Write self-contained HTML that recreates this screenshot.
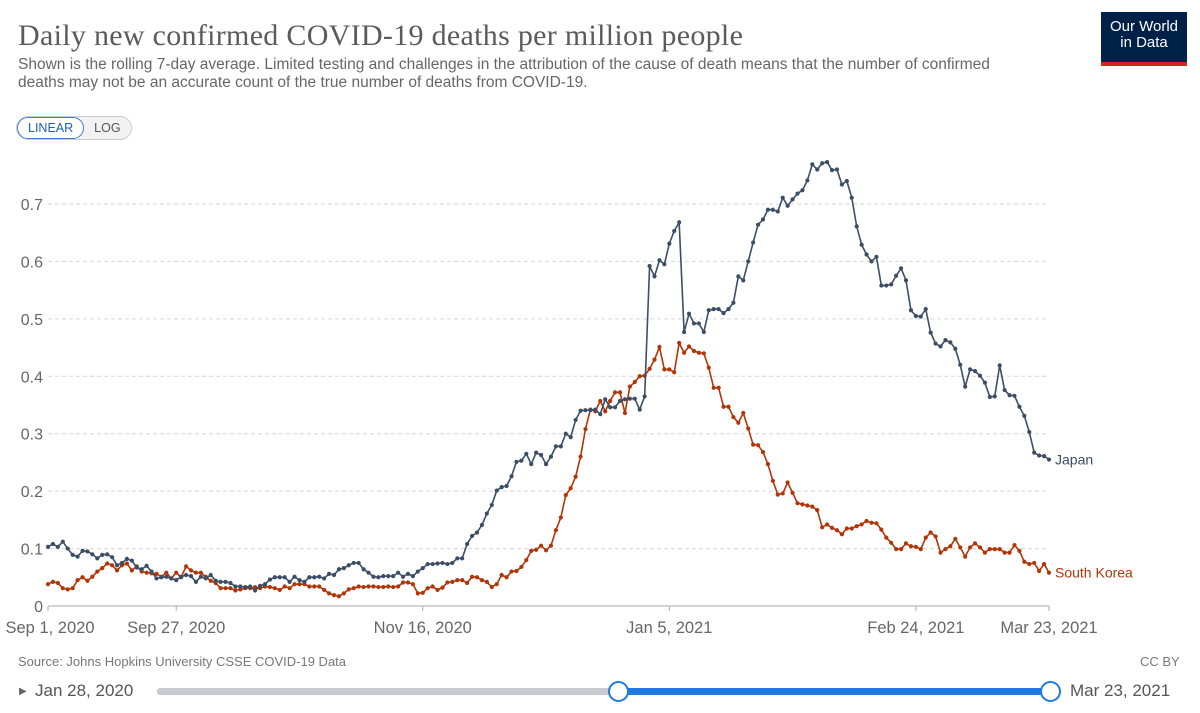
<!DOCTYPE html>
<html><head><meta charset="utf-8">
<style>
body{margin:0;background:#fff;width:1200px;height:713px;overflow:hidden;font-family:"Liberation Sans",sans-serif;position:relative}
.t{position:absolute;margin:0}
</style></head><body>
<h1 class="t" style="left:18px;top:19px;font-family:'Liberation Serif',serif;font-weight:normal;font-size:30px;color:#5b5b5b;letter-spacing:0.3px">Daily new confirmed COVID-19 deaths per million people</h1>
<p class="t" style="left:18px;top:56px;font-size:15.5px;line-height:18px;color:#666;width:1000px">Shown is the rolling 7-day average. Limited testing and challenges in the attribution of the cause of death means that the number of confirmed deaths may not be an accurate count of the true number of deaths from COVID-19.</p>
<div style="position:absolute;left:1101px;top:12px;width:86px;height:54px;background:#002147;color:#fff;font-size:15px;line-height:16px;text-align:center;box-sizing:border-box;padding-top:7px">Our World<br>in Data<div style="position:absolute;left:0;bottom:0;width:86px;height:4px;background:#ce261e"></div></div>
<div style="position:absolute;left:16px;top:116px;height:22px;border:1px solid #ccc;border-radius:12px;font-size:12.5px;display:flex;overflow:hidden;background:#f2f2f2">
<div style="padding:3px 10px;border:1.5px solid #3a7cd8;border-radius:12px;color:#1d5fbf;background:#fff">LINEAR</div>
<div style="padding:4px 10px;color:#555">LOG</div></div>
<svg id="ch" width="1200" height="713" style="position:absolute;left:0;top:0"></svg>
<div class="t" style="left:18px;top:654px;font-size:13px;color:#777">Source: Johns Hopkins University CSSE COVID-19 Data</div>
<div class="t" style="left:1140px;top:654px;font-size:13px;color:#777">CC BY</div>
<div class="t" style="left:19px;top:686px;font-size:10px;color:#666">▶</div>
<div class="t" style="left:35px;top:681px;font-size:17px;color:#555">Jan 28, 2020</div>
<div class="t" style="left:1070px;top:681px;font-size:17px;color:#555">Mar 23, 2021</div>
<div style="position:absolute;left:157px;top:688px;width:893px;height:7px;background:#c8ccd2;border-radius:3px"></div>
<div style="position:absolute;left:618px;top:688px;width:432px;height:7px;background:#1f7ae0"></div>
<div style="position:absolute;left:608px;top:681px;width:17px;height:17px;border:2px solid #1f7ae0;border-radius:50%;background:#fff"></div>
<div style="position:absolute;left:1040px;top:681px;width:17px;height:17px;border:2px solid #1f7ae0;border-radius:50%;background:#fff"></div>
<script>
const yTicks=[0,0.1,0.2,0.3,0.4,0.5,0.6,0.7];
const xTickLabels=["Sep 1, 2020","Sep 27, 2020","Nov 16, 2020","Jan 5, 2021","Feb 24, 2021","Mar 23, 2021"];
const xTickDays=[0,26,76,126,176,203];
const japan=[.103,.108,.103,.112,.1,.089,.086,.096,.095,.09,.083,.089,.09,.085,.071,.075,.082,.079,.067,.064,.07,.06,.048,.05,.051,.048,.045,.051,.054,.052,.042,.051,.048,.054,.044,.042,.042,.04,.034,.034,.033,.034,.027,.035,.038,.046,.05,.05,.05,.042,.051,.045,.042,.05,.05,.051,.048,.056,.054,.064,.066,.071,.075,.075,.064,.058,.051,.05,.052,.052,.052,.058,.051,.056,.052,.06,.066,.073,.073,.074,.075,.073,.075,.083,.083,.108,.122,.128,.141,.161,.176,.201,.207,.209,.226,.251,.253,.265,.247,.267,.263,.247,.26,.278,.278,.3,.294,.324,.34,.341,.341,
.342,.334,.36,.346,.346,.357,.36,.361,.361,.342,.365,.592,.574,.602,.595,.631,.653,.668,.477,.509,.492,.492,.477,.515,.517,.517,.51,.517,.528,.574,.567,.6,.633,.664,.673,.69,.69,.687,.711,.697,.708,.718,.724,.741,.769,.76,.771,.773,.759,.76,.734,.74,.711,.661,.629,.612,.6,.608,.558,.558,.56,.575,.588,.567,.515,.505,.504,.517,.476,.457,.452,.463,.459,.448,.42,.382,.412,.409,.401,.389,.364,.365,.419,.376,.367,.366,.347,.331,.303,.267,.262,.261,.255];
const korea=[.038,.042,.040,.031,.029,.031,.045,.050,.044,.051,.060,.066,.074,.071,.062,.071,.074,.062,.069,.060,.058,.057,.056,.051,.058,.048,.058,.050,.069,.062,.058,.058,.051,.044,.040,.031,.031,.031,.027,.029,.031,.031,.033,.031,.034,.033,.031,.028,.034,.031,.038,.038,.038,.034,.034,.034,.028,.022,.019,.017,.022,.029,.031,.034,.033,.034,.034,.033,.033,.034,.033,.034,.041,.041,.038,.022,.023,.031,.034,.028,.032,.041,.042,.045,.045,.040,.051,.050,.045,.042,.033,.038,.054,.050,.060,.061,.068,.080,.096,.098,.105,.097,.105,.132,.154,.193,.205,.225,.260,.308,.342,
.339,.357,.339,.357,.372,.372,.336,.382,.39,.40,.401,.413,.429,.451,.412,.412,.407,.458,.441,.452,.444,.441,.44,.415,.38,.38,.347,.347,.329,.319,.336,.309,.281,.28,.268,.247,.218,.194,.196,.215,.197,.179,.177,.175,.173,.167,.137,.142,.136,.132,.125,.135,.135,.139,.142,.148,.145,.144,.133,.119,.11,.099,.099,.109,.104,.103,.099,.119,.128,.121,.093,.099,.104,.117,.102,.086,.102,.109,.102,.093,.099,.099,.099,.093,.093,.106,.096,.077,.073,.075,.061,.073,.058];
const NS='http://www.w3.org/2000/svg',svg=document.getElementById('ch');
const X0=48,X1=1049,Y0=606,PER=574.3;
const xs=d=>X0+(X1-X0)*d/203, ys=v=>Y0-v*PER;
function mk(t,a,txt){const e=document.createElementNS(NS,t);for(const k in a)e.setAttribute(k,a[k]);if(txt!=null)e.textContent=txt;svg.appendChild(e);return e;}
yTicks.forEach(v=>{
 if(v>0){const g=mk('line',{x1:X0,x2:1048,y1:ys(v),y2:ys(v),stroke:'#d5d5d5','stroke-dasharray':'4,3'});
 
 }
 const t=mk('text',{x:43,y:ys(v)+6,'text-anchor':'end','font-size':16,fill:'#666','font-family':'Liberation Sans'},String(v));
 
 
});
const ax=mk('line',{x1:X0,x2:1049,y1:Y0,y2:Y0,stroke:'#aaa'});


xTickLabels.forEach((l,i)=>{
 const x=xs(xTickDays[i]);
 const tk=mk('line',{x1:x,x2:x,y1:Y0,y2:Y0+5,stroke:'#aaa'});
 
 
 let tx=x;if(i==0){tx=x+2;}
 const t=mk('text',{x:tx,y:633,'text-anchor':'middle','font-size':16.5,fill:'#666','font-family':'Liberation Sans'},l);
 
 
});
function series(arr,col,name,label){
 const p=mk('polyline',{points:arr.map((v,i)=>xs(i)+','+ys(v)).join(' '),fill:'none',stroke:col,'stroke-width':1.6});
 
 
 arr.forEach((v,i)=>{const c=mk('circle',{cx:xs(i),cy:ys(v),r:2.1,fill:col});
  
  });
 const t=mk('text',{x:1055,y:ys(arr[arr.length-1])+5,'font-size':14,fill:col,'font-family':'Liberation Sans'},label);
 
 
}
series(korea,'#b13507','south-korea','South Korea');
series(japan,'#3c4e66','japan','Japan');
</script>
</body></html>
